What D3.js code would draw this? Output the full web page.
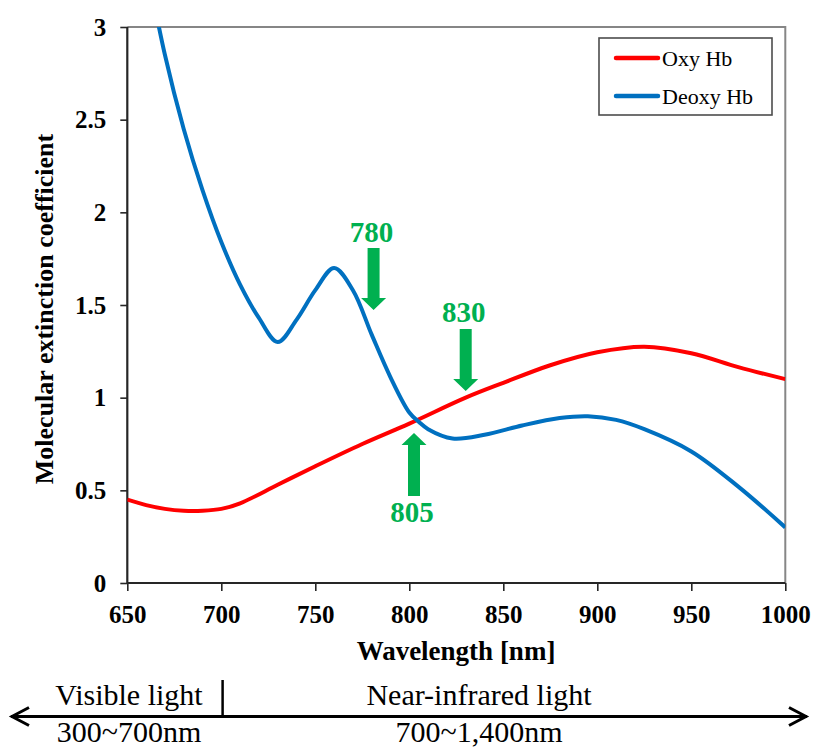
<!DOCTYPE html>
<html>
<head>
<meta charset="utf-8">
<script src="https://cdn.jsdelivr.net/npm/d3@7"></script>
</head>
<body style="margin:0">
<svg id="chart" width="813" height="749" font-family="Liberation Serif"></svg>
<script>
// ---- Data ----
const oxyWavelength = [650, 660, 670, 680, 690, 700, 710, 730, 750, 775, 800, 830, 850, 875, 900, 925, 950, 975, 1000];
const oxyValues     = [0.45, 0.42, 0.40, 0.39, 0.39, 0.40, 0.43, 0.53, 0.63, 0.75, 0.86, 1.00, 1.08, 1.175, 1.245, 1.275, 1.24, 1.165, 1.10];

const deoxyWavelength = [660, 670, 680, 690, 700, 710, 720, 730, 740, 750, 760, 770, 780, 790, 800, 805, 810, 823, 840, 860, 880, 895, 910, 925, 950, 975, 1000];
const deoxyValues     = [3.35, 2.85, 2.45, 2.12, 1.84, 1.61, 1.43, 1.30, 1.42, 1.58, 1.70, 1.58, 1.34, 1.11, 0.92, 0.87, 0.83, 0.78, 0.80, 0.85, 0.89, 0.90, 0.88, 0.83, 0.71, 0.52, 0.30];

const seriesNames  = ["Oxy Hb", "Deoxy Hb"];
const seriesColors = ["#FF0000", "#0070C0"];

const xTicks = [650, 700, 750, 800, 850, 900, 950, 1000];
const yTicks = [0, 0.5, 1, 1.5, 2, 2.5, 3];

// annotation arrows: label, wavelength, arrow tip value, arrow tail value, label value
const annLabels = ["780", "830", "805"];
const annX      = [781, 830, 802.5];
const annTip    = [1.473, 1.036, 0.809];
const annTail   = [1.808, 1.370, 0.469];
const annText   = [1.84, 1.408, 0.329];

const bandTop    = ["Visible light", "Near-infrared light"];
const bandBottom = ["300~700nm", "700~1,400nm"];

// ---- Layout ----
const svg = d3.select("#chart");
const x = d3.scaleLinear().domain([650, 1000]).range([127.3, 785.3]);
const y = d3.scaleLinear().domain([0, 3]).range([583, 27]);

function txt(sel) {
  return sel.attr("font-family", "Liberation Serif").style("font-family", '"Liberation Serif"');
}

svg.append("rect").attr("width", 813).attr("height", 749).attr("fill", "#fff");

svg.append("defs").append("clipPath").attr("id", "plotclip")
  .append("rect").attr("x", x(650)).attr("y", y(3)).attr("width", x(1000) - x(650)).attr("height", y(0) - y(3));

// frame (top/right gray)
svg.append("path")
  .attr("d", `M${x(650)},${y(3)}H${x(1000)}V${y(0)}`)
  .attr("fill", "none").attr("stroke", "#868686").attr("stroke-width", 2);

// axes
const yAxis = d3.axisLeft(y).tickValues(yTicks).tickSize(7).tickPadding(14).tickFormat(d => String(d));
const xAxis = d3.axisBottom(x).tickValues(xTicks).tickSize(8).tickPadding(14).tickFormat(d => String(d));

const gy = svg.append("g").attr("transform", `translate(${x(650)},0)`).call(yAxis);
const gx = svg.append("g").attr("transform", `translate(0,${y(0)})`).call(xAxis);
[gx, gy].forEach(g => {
  g.attr("font-family", "Liberation Serif").attr("font-size", 25).attr("font-weight", "bold");
  g.select(".domain").attr("stroke", "#262626").attr("stroke-width", 2.2);
  g.selectAll(".tick line").attr("stroke", "#262626").attr("stroke-width", 1.6);
  txt(g.selectAll(".tick text"))
    .attr("font-size", 25).attr("font-weight", "bold").attr("fill", "#000");
});
gx.select(".domain").attr("d", `M${x(650)},0H${x(1000)}`);
gy.select(".domain").attr("d", `M0,${y(3)}V${y(0)}`);

// axis titles
txt(svg.append("text"))
  .attr("x", 456).attr("y", 660)
  .attr("text-anchor", "middle").attr("font-size", 27).attr("font-weight", "bold")
  .text("Wavelength [nm]");
txt(svg.append("text"))
  .attr("transform", `translate(53,309) rotate(-90)`)
  .attr("text-anchor", "middle").attr("font-size", 26).attr("font-weight", "bold")
  .text("Molecular extinction coefficient");

// lines
const line = d3.line().x(d => x(d[0])).y(d => y(d[1])).curve(d3.curveCatmullRom.alpha(0.5));
const series = [
  d3.zip(oxyWavelength, oxyValues),
  d3.zip(deoxyWavelength, deoxyValues)
];
const plot = svg.append("g").attr("clip-path", "url(#plotclip)");
series.forEach((s, i) => {
  plot.append("path").datum(s)
    .attr("d", line)
    .attr("fill", "none")
    .attr("stroke", seriesColors[i])
    .attr("stroke-width", 4)
    .attr("stroke-linejoin", "round");
});

// legend
const lg = svg.append("g");
lg.append("rect").attr("x", 599).attr("y", 38).attr("width", 173).attr("height", 77)
  .attr("fill", "#fff").attr("stroke", "#4d4d4d").attr("stroke-width", 1.6);
seriesNames.forEach((n, i) => {
  const ly = 58 + i * 38;
  lg.append("line").attr("x1", 616).attr("x2", 658).attr("y1", ly).attr("y2", ly)
    .attr("stroke", seriesColors[i]).attr("stroke-width", 4.5).attr("stroke-linecap", "round");
  txt(lg.append("text")).attr("x", 662).attr("y", ly + 8)
    .attr("font-size", 22).attr("fill", "#000").text(n);
});

// annotation arrows
const green = "#00B050";
annLabels.forEach((lab, i) => {
  const cx = x(annX[i]);
  const tip = y(annTip[i]);
  const tail = y(annTail[i]);
  const dir = tail < tip ? 1 : -1; // 1: pointing down
  const headLen = 12 * dir;
  const base = tip - headLen;
  const sw = 6, hw = 12.5;
  const pts = [[cx - sw, tail], [cx + sw, tail], [cx + sw, base], [cx + hw, base], [cx, tip], [cx - hw, base], [cx - sw, base]];
  svg.append("path").attr("d", "M" + pts.map(p => p.join(",")).join("L") + "Z").attr("fill", green);
  txt(svg.append("text")).attr("x", cx - 2).attr("y", y(annText[i]))
    .attr("text-anchor", "middle").attr("font-size", 29).attr("font-weight", "bold")
    .attr("fill", green).text(lab);
});

// spectrum band annotation
const by = 716.5;
svg.append("line").attr("x1", 11).attr("x2", 807).attr("y1", by).attr("y2", by)
  .attr("stroke", "#000").attr("stroke-width", 3);
svg.append("path").attr("d", `M29,${by - 9}L12,${by}L29,${by + 9}`)
  .attr("fill", "none").attr("stroke", "#000").attr("stroke-width", 3);
svg.append("path").attr("d", `M789,${by - 9}L806,${by}L789,${by + 9}`)
  .attr("fill", "none").attr("stroke", "#000").attr("stroke-width", 3);
svg.append("line").attr("x1", x(700) + 1.3).attr("x2", x(700) + 1.3).attr("y1", 680).attr("y2", by)
  .attr("stroke", "#000").attr("stroke-width", 2.5);

const bandCenters = [129, 479];
bandTop.forEach((t, i) => {
  txt(svg.append("text")).attr("x", bandCenters[i]).attr("y", 705).attr("text-anchor", "middle")
    .attr("font-size", 30).attr("fill", "#000").text(t);
  txt(svg.append("text")).attr("x", bandCenters[i]).attr("y", 742).attr("text-anchor", "middle")
    .attr("font-size", 30).attr("fill", "#000").text(bandBottom[i]);
});
</script>
</body>
</html>
